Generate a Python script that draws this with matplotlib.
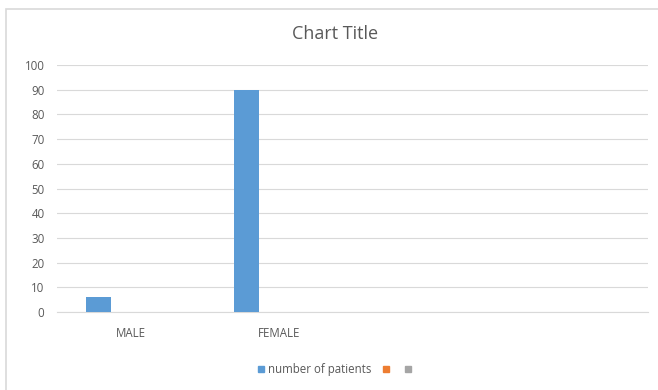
import matplotlib.pyplot as plt
import numpy as np
from matplotlib.lines import Line2D
from matplotlib.patches import Rectangle

categories = ['MALE', 'FEMALE', '', '']
patients = [6, 90, np.nan, np.nan]
series2 = [np.nan, np.nan, np.nan, np.nan]
series3 = [np.nan, np.nan, np.nan, np.nan]
series_names = ['number of patients', '', '']
colors = ['#5B9BD5', '#ED7D31', '#A5A5A5']

plt.rcParams['font.family'] = ['Open Sans', 'DejaVu Sans']

fig = plt.figure(figsize=(6.58, 3.9), dpi=100)
ax = fig.add_axes([57/658, 1 - 312/390, (648 - 57)/658, (312 - 65)/390])

# chart border (right and bottom edges fall outside the image)
fig.patches.append(Rectangle((6/658, -0.1), 1.2, 1.1 - 9/390, transform=fig.transFigure,
                             fill=False, edgecolor='#D9D9D9', linewidth=1.2))

x = np.arange(len(categories))
w = 0.17
for i, vals in enumerate([patients, series2, series3]):
    ax.bar(x - 0.22 + i * w, vals, width=w, color=colors[i], zorder=3)

ax.set_xlim(-0.5, len(categories) - 0.5)
ax.set_ylim(0, 100)
ax.set_yticks(range(0, 101, 10))
ax.set_xticks(x)
ax.set_xticklabels(categories)
ax.tick_params(axis='y', length=0, pad=9, labelsize=8.3, labelcolor='#595959')
ax.tick_params(axis='x', length=0, pad=11, labelsize=8.3, labelcolor='#595959')
ax.grid(axis='y', color='#D9D9D9', linewidth=0.8, zorder=0)
for s in ['top', 'right', 'left']:
    ax.spines[s].set_visible(False)
ax.spines['bottom'].set_color('#D9D9D9')
ax.spines['bottom'].set_linewidth(0.8)

fig.text(335/658, 1 - 34/390, 'Chart Title', ha='center', va='center',
         fontsize=13, color='#595959')

handles = [Line2D([], [], marker='s', linestyle='none', markersize=5,
                  color=c) for c in colors]
fig.legend(handles, series_names, loc='center', ncol=3,
           bbox_to_anchor=(336/658, 1 - 370/390), frameon=False,
           fontsize=8.3, labelcolor='#595959', handlelength=0.6,
           handletextpad=0.3, columnspacing=1.0)

fig.savefig('out.png', dpi=100)
